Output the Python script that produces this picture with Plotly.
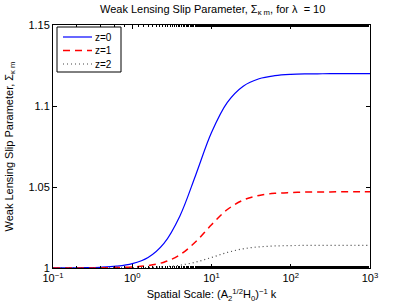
import plotly.graph_objects as go

# log10 of spatial scale k
log_k = [-1.0, -0.8, -0.6, -0.4, -0.2, 0.0, 0.2, 0.4, 0.6, 0.8, 1.0,
         1.2, 1.4, 1.6, 1.8, 2.0, 2.2, 2.4, 2.6, 2.8, 3.0]
k_vals = [10 ** v for v in log_k]

sigma_z0 = [1.00003, 1.00007, 1.00017, 1.00044, 1.0011, 1.0027, 1.0065, 1.0152,
            1.0320, 1.0573, 1.0836, 1.1022, 1.1122, 1.1168, 1.1187, 1.1195,
            1.1198, 1.1199, 1.1200, 1.1200, 1.1200]
sigma_z1 = [1.00001, 1.00002, 1.00004, 1.0001, 1.00025, 1.0006, 1.0015, 1.0036,
            1.0081, 1.0162, 1.0267, 1.0361, 1.0419, 1.0448, 1.0461, 1.0466,
            1.04686, 1.04694, 1.0470, 1.0470, 1.0470]
sigma_z2 = [1.000001, 1.000003, 1.000008, 1.00002, 1.00005, 1.00012, 1.0003,
            1.00073, 1.0017, 1.0036, 1.0065, 1.0096, 1.01185, 1.01305, 1.0136,
            1.01384, 1.01394, 1.01397, 1.0140, 1.0140, 1.0140]

series_names = ["z=0", "z=1", "z=2"]
x_tick_vals = [0.1, 1, 10, 100, 1000]
x_tick_text = ["10<sup>−1</sup>", "10<sup>0</sup>", "10<sup>1</sup>",
               "10<sup>2</sup>", "10<sup>3</sup>"]
y_tick_vals = [1.0, 1.05, 1.1, 1.15]
y_tick_text = ["1", "1.05", "1.1", "1.15"]

FONT = "Liberation Sans, Arial, sans-serif"

W, H = 409, 308
ML, MR, MT, MB = 53, 39, 25, 40
PW, PH = W - ML - MR, H - MT - MB


def px_x(px):  # window pixel -> paper x
    return (px - ML) / PW


def px_y(py):  # window pixel -> paper y
    return (H - MB - py) / PH


fig = go.Figure()
styles = [dict(color="#0000ff", width=1.2, dash="solid"),
          dict(color="#ff0000", width=1.5, dash="7px,5px"),
          dict(color="#444444", width=1.2, dash="1px,3px")]
for name, ys, st in zip(series_names, [sigma_z0, sigma_z1, sigma_z2], styles):
    fig.add_trace(go.Scatter(x=k_vals, y=ys, mode="lines", name=name,
                             line=dict(shape="spline", **st)))

# custom legend (MATLAB style, compact)
shapes = [dict(type="rect", xref="paper", yref="paper",
               x0=px_x(57), x1=px_x(121), y0=px_y(72), y1=px_y(27),
               line=dict(color="black", width=1), fillcolor="white", layer="above")]
annotations = []
for i, (name, st) in enumerate(zip(series_names, styles)):
    yy = px_y(37 + i * 13.5)
    shapes.append(dict(type="line", xref="paper", yref="paper",
                       x0=px_x(63), x1=px_x(92), y0=yy, y1=yy,
                       line=dict(color=st["color"], width=st["width"], dash=st["dash"]),
                       layer="above"))
    annotations.append(dict(text=name, xref="paper", yref="paper",
                            x=px_x(93), y=yy, xanchor="left", yanchor="middle",
                            showarrow=False, font=dict(size=10)))

fig.update_layout(
    width=W, height=H,
    margin=dict(l=ML, r=MR, t=MT, b=MB, autoexpand=False),
    paper_bgcolor="white", plot_bgcolor="white",
    font=dict(family=FONT, size=11, color="black"),
    title=dict(text="Weak Lensing Slip Parameter, Σ<sub>κ m</sub>, for λ  = 10",
               x=0.52, xanchor="center", y=1 - 9 / H, yanchor="middle",
               font=dict(size=11), automargin=False),
    showlegend=False,
    hovermode=False,
    shapes=shapes,
    annotations=annotations,
    xaxis=dict(type="log", range=[-1, 3], tickvals=x_tick_vals, ticktext=x_tick_text,
               ticks="inside", ticklen=4, tickcolor="black", showgrid=False,
               showline=True, linecolor="black", linewidth=1, mirror="ticks",
               zeroline=False, automargin=False,
               minor=dict(ticks="inside", ticklen=2, tickcolor="black", showgrid=False),
               title=dict(text="Spatial Scale: (A<sub>2</sub><sup>1/2</sup>H<sub>0</sub>)<sup>−1</sup> k",
                          standoff=7, font=dict(size=11))),
    yaxis=dict(range=[1, 1.15], tickvals=y_tick_vals, ticktext=y_tick_text,
               ticks="inside", ticklen=4, tickcolor="black", showgrid=False,
               showline=True, linecolor="black", linewidth=1, mirror="ticks",
               zeroline=False, automargin=False,
               title=dict(text="Weak Lensing Slip Parameter, Σ<sub>κ m</sub>",
                          standoff=12, font=dict(size=11))),
)

# remove the browser's default 8px body margin so the figure fills the window
fig.write_html("out.html", config={"displayModeBar": False},
               post_script="document.body.style.margin='0';")
